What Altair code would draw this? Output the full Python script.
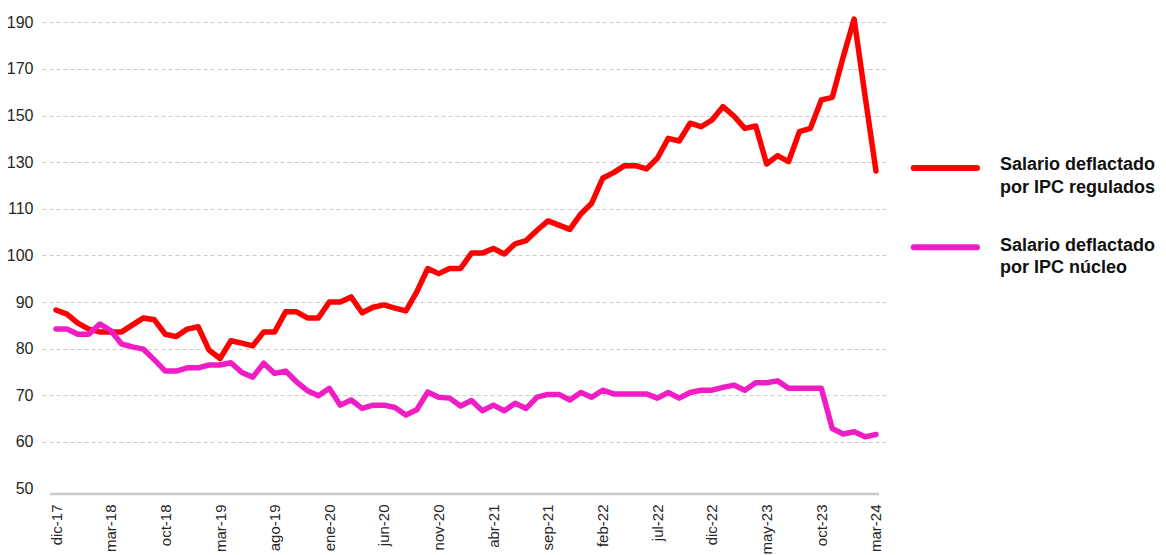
import altair as alt
import pandas as pd

# ---------------- data ----------------
month_labels = ["dic-17", "mar-18", "oct-18", "mar-19", "ago-19", "ene-20", "jun-20",
                "nov-20", "abr-21", "sep-21", "feb-22", "jul-22", "dic-22", "may-23",
                "oct-23", "mar-24"]

regulados = [88.3, 87.4, 85.5, 84.2, 83.6, 83.6, 83.6, 85.1, 86.6, 86.2,
             83.1, 82.6, 84.2, 84.7, 79.7, 77.9, 81.7, 81.2, 80.6, 83.6,
             83.6, 87.9, 87.9, 86.6, 86.6, 90.0, 90.0, 91.1, 87.7, 88.9,
             89.4, 88.7, 88.1, 92.2, 97.2, 96.1, 97.2, 97.2, 100.5, 100.5,
             101.5, 100.3, 102.5, 103.2, 105.4, 107.4, 106.5, 105.6, 108.9, 112.4,
             123.1, 125.5, 128.5, 128.5, 127.1, 131.7, 140.2, 139.1, 146.7, 145.2,
             148.1, 153.8, 149.8, 144.5, 145.5, 129.2, 132.8, 130.2, 143.1, 144.5,
             156.7, 157.8, 175.1, 191.4, 158.4, 126.2]

nucleo = [84.2, 84.2, 83.1, 83.1, 85.3, 83.9, 81.0, 80.4, 79.9, 77.6,
          75.2, 75.2, 75.9, 75.9, 76.5, 76.5, 77.0, 74.9, 73.9, 76.9,
          74.7, 75.2, 72.9, 71.0, 69.9, 71.5, 67.9, 69.0, 67.2, 67.9,
          67.9, 67.4, 65.8, 66.9, 70.7, 69.6, 69.4, 67.7, 68.9, 66.7,
          67.9, 66.7, 68.3, 67.2, 69.6, 70.2, 70.2, 69.0, 70.6, 69.6,
          71.1, 70.3, 70.3, 70.3, 70.3, 69.4, 70.6, 69.4, 70.6, 71.1,
          71.1, 71.7, 72.2, 71.1, 72.7, 72.7, 73.1, 71.5, 71.5, 71.5,
          71.5, 62.9, 61.7, 62.2, 61.1, 61.6]

series_names = ["Salario deflactado por IPC regulados", "Salario deflactado por IPC núcleo"]
legend_lines = [["Salario deflactado", "por IPC regulados"],
                ["Salario deflactado", "por IPC núcleo"]]
series_colors = ["#ff0000", "#f01dc5"]
y_tick_values = [50, 60, 70, 80, 90, 100, 110, 130, 150, 170, 190]
x_label_step = 5

# ---------------- tables ----------------
n = len(regulados)
df_reg = pd.DataFrame({"i": list(range(n)), "v": regulados, "s": series_names[0]})
df_nuc = pd.DataFrame({"i": list(range(n)), "v": nucleo, "s": series_names[1]})

TICK_FONT = "Liberation Sans, Arial, sans-serif"
LEG_FONT = "Liberation Sans, Arial, sans-serif"

label_array = "[" + ",".join("'" + l + "'" for l in month_labels) + "]"

x_enc = alt.X(
    "i:Q",
    title=None,
    scale=alt.Scale(domain=[-1.2805, 76.0976], nice=False, zero=False),
    axis=alt.Axis(
        values=list(range(0, n, x_label_step)),
        labelExpr=label_array + "[round(datum.value / " + str(x_label_step) + ")]",
        labelAngle=270,
        labelFontSize=15,
        labelFont=TICK_FONT,
        labelColor="#262626",
        labelPadding=10,
        ticks=False,
        tickSize=0,
        domain=False,
        grid=False,
        labelOverlap=False,
    ),
)

y_enc = alt.Y(
    "v:Q",
    title=None,
    scale=alt.Scale(domain=[50, 110, 190], range=[474.6, 194.8, 8.3], zero=False, nice=False),
    axis=alt.Axis(
        values=y_tick_values,
        labelFontSize=16,
        labelFont=TICK_FONT,
        labelColor="#262626",
        labelPadding=9,
        ticks=False,
        tickSize=0,
        domain=False,
        grid=True,
        gridDash=[4, 3],
        gridColor="#cccccc",
        gridWidth=1,
        gridOpacity={"condition": {"test": "datum.value === 50", "value": 0}, "value": 1},
        labelOverlap=False,
    ),
)

line_red = alt.Chart(df_reg).mark_line(
    strokeWidth=5.5, strokeCap="round", strokeJoin="round", color=series_colors[0]
).encode(x=x_enc, y=y_enc)

line_pink = alt.Chart(df_nuc).mark_line(
    strokeWidth=5.5, strokeCap="round", strokeJoin="round", color=series_colors[1]
).encode(x=x_enc, y=y_enc)

# x axis base line
axis_line = alt.Chart(pd.DataFrame({"a": [0]})).mark_rule(
    color="#c8c8c8", strokeWidth=2.5
).encode(x=alt.datum(-0.55), x2=alt.datum(75.27), y=alt.value(480))

# legend (manual, to the right of the plot)
legend_layers = []
sample_y = [154, 233.3]
text_y = [[156, 179.3], [237, 259.3]]
for k in range(2):
    legend_layers.append(
        alt.Chart(pd.DataFrame({"a": [0]})).mark_rule(
            color=series_colors[k], strokeWidth=6, strokeCap="round"
        ).encode(x=alt.value(871.7), x2=alt.value(935), y=alt.value(sample_y[k]))
    )
    for j in range(2):
        legend_layers.append(
            alt.Chart(pd.DataFrame({"t": [legend_lines[k][j]]})).mark_text(
                align="left", baseline="alphabetic", fontSize=18, fontWeight="bold",
                font=LEG_FONT, color="#111111"
            ).encode(text="t:N", x=alt.value(958), y=alt.value(text_y[k][j]))
        )

chart = alt.layer(axis_line, line_red, line_pink, *legend_layers).properties(
    width=846,
    height=480,
    padding={"left": 34, "top": 6, "right": 270, "bottom": 61},
    autosize="none",
    background="white",
).configure_view(stroke="transparent", strokeWidth=0)

chart.save("out.html", embed_options={"renderer": "svg", "actions": False})
